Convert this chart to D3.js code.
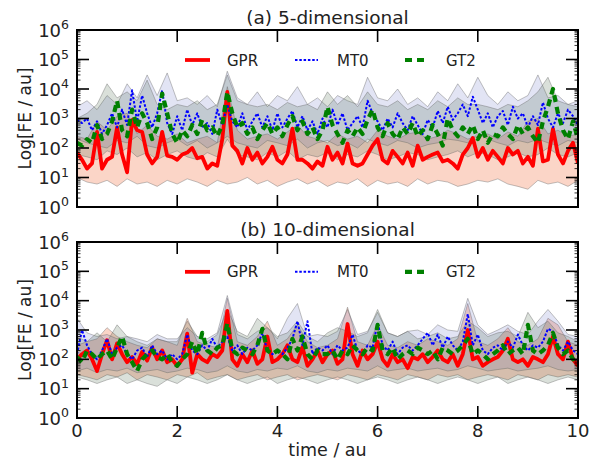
<!DOCTYPE html>
<html>
<head>
<meta charset="utf-8">
<script src="https://cdn.jsdelivr.net/npm/d3@7"></script>
<style>
  body { margin: 0; background: #fff; }
  svg { display: block; font-family: "DejaVu Sans", sans-serif; }
</style>
</head>
<body>
<svg id="chart" width="592" height="462"></svg>
<script>
// time grids: lines sampled every 0.1 au, bands every 0.2 au
const timeLine = d3.range(101).map(i => i / 10);
const timeBand = d3.range(51).map(i => i / 5);
const xTickValues = [0, 2, 4, 6, 8, 10];
const yTickValues = [1, 10, 100, 1e3, 1e4, 1e5, 1e6];
const seriesNames = ['GPR', 'MT0', 'GT2'];

// (a) 5-dimensional
const gprA = [70,40,20,30,350,20,40,50,500,60,
  15,900,400,350,60,30,50,350,55,50,
  40,60,70,100,45,50,20,30,25,200,
  8000,120,80,30,100,40,70,30,50,110,
  40,30,60,450,40,40,30,20,35,25,
  110,40,70,30,140,30,25,30,60,120,
  200,40,30,80,50,30,70,25,120,40,
  50,60,70,35,40,30,20,60,100,220,
  50,100,40,80,50,30,100,60,80,30,
  50,25,450,35,40,450,60,30,80,150,
  30];
const mt0A = [900,700,1000,400,800,300,600,1500,500,2000,
  600,9000,800,6000,1500,500,1500,9000,700,300,
  1200,400,2000,600,1500,500,700,300,2000,600,
  3000,800,500,1500,400,800,1500,500,1200,400,
  1500,500,1000,1800,500,1200,400,800,300,1000,
  500,2000,600,1500,400,700,1200,500,4000,1500,
  800,400,1000,500,1500,700,400,1200,600,300,
  900,500,1800,700,2500,900,1500,3000,1200,5500,
  2000,700,1500,500,1200,1800,600,2500,1000,1500,
  500,1200,600,3500,1000,500,1500,700,2000,1200,
  600];
const gt2A = [150,120,200,150,600,200,300,800,4000,400,
  250,2000,500,1500,700,200,500,7000,1500,300,
  150,400,250,600,300,900,400,500,250,600,
  8000,1500,500,700,300,500,200,400,700,300,
  500,250,600,1200,400,800,300,500,200,400,
  2500,600,300,150,400,250,500,300,900,2000,
  500,250,700,300,200,500,300,700,250,400,
  200,600,300,120,1000,400,250,500,300,600,
  200,400,150,300,250,500,300,200,600,300,
  500,250,150,800,2500,10000,1500,400,200,800,
  200];
const gprLoA = [10,7,6,8,5,9,6,7,5,8,6,9,7,5,8,6,7,10,6,8,5,7,9,6,8,5,7,6,9,5,8,6,7,5,9,6,8,7,5,6,8,7,9,6,5,4,8,6,7,5,8];
const gprHiA = [250,200,800,400,1200,1500,300,600,250,200,300,150,200,250,150,12000,400,200,250,300,200,350,600,250,200,150,300,200,250,150,400,250,200,300,350,200,250,400,300,200,250,300,200,350,250,800,1000,300,400,250,300];
const mt0LoA = [200,150,120,100,180,150,250,120,100,150,200,120,180,100,150,250,150,120,100,180,150,120,200,100,150,180,120,150,100,200,150,120,180,150,100,130,150,200,180,150,300,200,150,120,180,150,200,150,120,180,150];
const mt0HiA = [2500,4000,2000,6000,3000,15000,5000,30000,6000,35000,4000,5000,3000,6000,2500,40000,5000,3000,8000,2500,6000,4000,12000,3000,5000,2500,6000,4000,3000,25000,5000,4000,10000,3000,5000,2500,8000,4000,15000,5000,25000,6000,3000,8000,4000,6000,30000,5000,6000,3000,4000];
const gt2LoA = [60,50,40,80,60,100,50,70,40,60,80,50,40,70,50,200,60,50,40,70,50,80,40,60,50,70,40,60,50,80,60,40,50,70,60,40,50,60,80,50,70,60,40,50,70,50,60,100,60,50,70];
const gt2HiA = [1000,1500,3000,15000,5000,8000,4000,20000,3000,2000,3000,2500,4000,2000,3000,30000,4000,3000,2500,3000,2000,3500,2500,3000,2000,8000,3000,6000,2500,8000,3000,2500,4000,2000,3000,2000,4000,2500,5000,3000,3000,2500,2000,3000,2500,4000,8000,25000,4000,3000,2500];

// (b) 10-dimensional
const gprB = [100,150,200,100,40,150,450,100,350,150,
  80,120,70,180,90,250,100,200,80,100,
  60,100,750,35,150,100,80,150,120,200,
  4500,100,60,150,80,200,70,100,600,80,
  100,150,300,100,80,260,60,100,200,80,
  150,200,70,100,1600,150,60,200,100,150,
  400,100,60,150,80,100,50,120,100,150,
  80,120,200,100,80,150,60,150,1000,100,
  120,60,80,100,120,200,500,100,80,100,
  60,120,100,80,150,600,150,100,400,100,
  60];
const mt0B = [150,1000,300,150,100,200,500,150,250,300,
  150,100,200,250,120,300,150,200,100,150,
  100,150,700,200,150,300,200,500,250,400,
  600,200,300,150,250,200,300,800,200,150,
  200,150,250,500,2000,300,2000,150,250,200,
  300,150,300,200,250,700,200,150,300,250,
  1800,300,200,400,150,250,300,200,300,500,
  800,300,700,250,600,300,200,400,3500,300,
  700,200,150,250,300,200,400,250,700,300,
  200,300,250,400,1100,900,300,200,400,200,
  150];
const gt2B = [120,80,200,150,100,150,200,100,250,600,
  150,80,40,100,150,200,120,100,150,80,
  60,100,150,400,150,800,200,150,250,300,
  1700,200,150,250,200,150,300,1100,200,150,
  200,150,100,500,200,600,150,100,200,150,
  150,200,100,200,150,300,200,150,250,200,
  1500,200,150,250,100,150,200,150,250,200,
  150,200,100,250,200,150,200,300,500,150,
  200,150,100,150,200,300,150,200,250,150,
  1500,200,150,200,300,800,250,150,200,100,
  150];
const gprLoB = [30,25,20,30,25,35,20,30,25,20,30,25,35,20,25,30,20,25,30,20,25,30,20,25,30,25,20,30,25,20,30,25,20,30,25,20,30,25,30,20,25,30,25,20,30,25,20,30,25,30,25];
const gprHiB = [300,400,500,1200,600,400,300,250,500,400,300,2500,400,300,250,12000,400,300,600,2000,300,500,1500,400,250,300,500,6000,400,300,1500,300,250,400,300,500,400,300,500,8000,400,300,500,1200,400,300,500,2500,1500,400,300];
const mt0LoB = [40,50,35,45,40,50,35,40,45,35,40,50,45,35,40,60,40,35,45,40,50,45,60,40,35,45,40,50,45,40,60,40,45,50,40,45,50,40,45,60,50,40,45,50,40,45,50,60,45,40,45];
const mt0HiB = [2500,800,600,700,500,600,500,400,700,500,500,1200,600,500,800,15000,700,500,900,1200,500,2500,8000,600,700,600,900,5000,700,900,4000,800,600,900,1000,700,1500,1000,900,12000,1500,700,1000,1500,900,700,2000,5000,2000,700,600];
const gt2LoB = [25,20,15,20,25,15,20,15,12,20,15,25,20,15,20,30,20,15,20,25,15,20,25,20,15,20,25,20,15,20,25,20,15,20,25,20,15,20,25,20,15,20,25,15,20,25,20,15,20,25,20];
const gt2HiB = [600,400,800,400,1500,600,400,300,500,400,400,2000,600,400,700,5000,900,600,2500,1200,600,800,2000,600,400,800,1200,900,600,800,5000,800,600,900,500,600,800,500,600,2000,1200,600,800,900,600,4000,1200,2000,800,600,400];

const styles = [
  { color: '#ff0000', width: 3.8, dash: null, fill: 'rgba(242,115,70,0.3)' },
  { color: '#0000ff', width: 2, dash: '2.5,1.8', fill: 'rgba(95,105,195,0.18)' },
  { color: '#008000', width: 4.2, dash: '7,5', fill: 'rgba(70,100,70,0.2)' }
];

const panels = [
  { title: '(a) 5-dimensional', top: 30, bottom: 207, lines: [gprA, mt0A, gt2A],
    bands: [[gprLoA, gprHiA], [mt0LoA, mt0HiA], [gt2LoA, gt2HiA]] },
  { title: '(b) 10-dimensional', top: 242, bottom: 418, lines: [gprB, mt0B, gt2B],
    bands: [[gprLoB, gprHiB], [mt0LoB, mt0HiB], [gt2LoB, gt2HiB]] }
];

const left = 77, right = 578;
const svg = d3.select('#chart');
const x = d3.scaleLinear().domain([0, 10]).range([left, right]);

panels.forEach((p, pi) => {
  const y = d3.scaleLog().domain([1, 1e6]).range([p.bottom, p.top]);
  const clipId = 'clip' + pi;
  svg.append('clipPath').attr('id', clipId)
    .append('rect').attr('x', left).attr('y', p.top)
    .attr('width', right - left).attr('height', p.bottom - p.top);

  const g = svg.append('g').attr('clip-path', `url(#${clipId})`);

  // shaded ranges
  p.bands.forEach((b, i) => {
    const area = d3.area()
      .x((d, k) => x(timeBand[k]))
      .y0((d, k) => y(b[0][k]))
      .y1((d, k) => y(b[1][k]));
    g.append('path').datum(b[0])
      .attr('d', area)
      .attr('fill', styles[i].fill)
      .attr('stroke', 'rgba(100,100,100,0.4)')
      .attr('stroke-width', 1);
  });

  // mean lines
  p.lines.forEach((vals, i) => {
    const line = d3.line().x((d, k) => x(timeLine[k])).y(d => y(d));
    g.append('path').datum(vals)
      .attr('d', line)
      .attr('fill', 'none')
      .attr('stroke', styles[i].color)
      .attr('stroke-width', styles[i].width)
      .attr('stroke-dasharray', styles[i].dash)
      .attr('stroke-linejoin', 'round');
  });

  // frame
  svg.append('rect').attr('x', left).attr('y', p.top)
    .attr('width', right - left).attr('height', p.bottom - p.top)
    .attr('fill', 'none').attr('stroke', '#000').attr('stroke-width', 2);

  const ticks = svg.append('g').attr('stroke', '#000');
  // y major + minor ticks, both sides, inward
  yTickValues.forEach(v => {
    ticks.append('line').attr('x1', left).attr('x2', left + 12).attr('y1', y(v)).attr('y2', y(v)).attr('stroke-width', 1.6);
    ticks.append('line').attr('x1', right).attr('x2', right - 12).attr('y1', y(v)).attr('y2', y(v)).attr('stroke-width', 1.6);
    if (v < 1e6) {
      d3.range(2, 10).forEach(m => {
        const yy = y(v * m);
        ticks.append('line').attr('x1', left).attr('x2', left + 3.5).attr('y1', yy).attr('y2', yy).attr('stroke-width', 0.8);
        ticks.append('line').attr('x1', right).attr('x2', right - 3.5).attr('y1', yy).attr('y2', yy).attr('stroke-width', 0.8);
      });
    }
    const lab = svg.append('text').attr('x', 69).attr('y', y(v) + 6.5)
      .attr('text-anchor', 'end').attr('font-size', 18).attr('fill', '#222');
    lab.append('tspan').text('10');
    lab.append('tspan').attr('dy', -7.5).attr('font-size', 12.5).text(Math.round(Math.log10(v)));
  });
  // x ticks top and bottom
  xTickValues.forEach(v => {
    ticks.append('line').attr('x1', x(v)).attr('x2', x(v)).attr('y1', p.bottom).attr('y2', p.bottom - 12).attr('stroke-width', 1.6);
    ticks.append('line').attr('x1', x(v)).attr('x2', x(v)).attr('y1', p.top).attr('y2', p.top + 12).attr('stroke-width', 1.6);
  });
  if (pi === 1) {
    xTickValues.forEach(v => {
      svg.append('text').attr('x', x(v)).attr('y', 437)
        .attr('text-anchor', 'middle').attr('font-size', 18).attr('fill', '#222').text(v);
    });
    svg.append('text').attr('x', (left + right) / 2).attr('y', 456)
      .attr('text-anchor', 'middle').attr('font-size', 17.5).attr('fill', '#222').text('time / au');
  }

  // title
  svg.append('text').attr('x', (left + right) / 2).attr('y', p.top - 6)
    .attr('text-anchor', 'middle').attr('font-size', 18.5).attr('fill', '#222').text(p.title);

  // y label
  const cy = (p.top + p.bottom) / 2;
  svg.append('text').attr('transform', `translate(31,${cy}) rotate(-90)`)
    .attr('text-anchor', 'middle').attr('font-size', 17).attr('fill', '#222').text('Log[FE / au]');

  // legend
  const ly = y(1e5) + 0.5;
  const sampleX = [[185, 210], [295, 318], [405, 425]];
  const textX = [227, 337, 446];
  seriesNames.forEach((name, i) => {
    svg.append('line').attr('x1', sampleX[i][0]).attr('x2', sampleX[i][1])
      .attr('y1', ly).attr('y2', ly)
      .attr('stroke', styles[i].color).attr('stroke-width', styles[i].width)
      .attr('stroke-dasharray', styles[i].dash);
    svg.append('text').attr('x', textX[i]).attr('y', ly + 5.5)
      .attr('font-size', 15).attr('fill', '#222').text(name);
  });
});
</script>
</body>
</html>
